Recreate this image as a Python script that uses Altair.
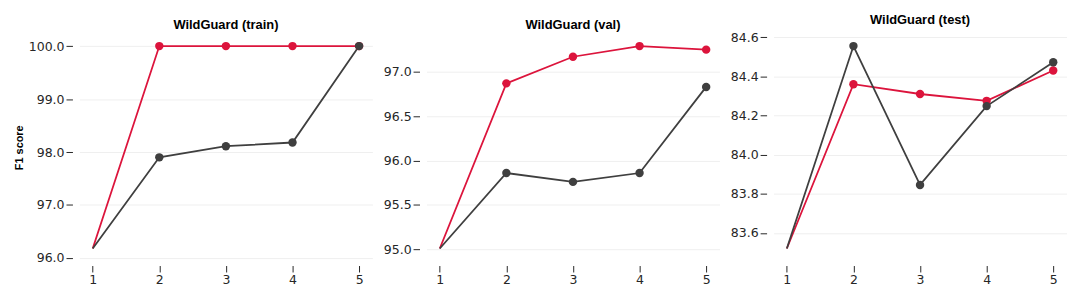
import altair as alt
import pandas as pd

orders = [1, 2, 3, 4, 5]
x_ticks = [1, 2, 3, 4, 5]
panel_titles = ["WildGuard (train)", "WildGuard (val)", "WildGuard (test)"]
series_names = ["TPC (progressive)", "TPC"]

linear_probe = [96.18, 95.01, 83.52]
train_progressive = [100.0, 100.0, 100.0, 100.0]
train_tpc = [97.90, 98.11, 98.18, 100.0]
val_progressive = [96.87, 97.17, 97.29, 97.25]
val_tpc = [95.86, 95.76, 95.86, 96.83]
test_progressive = [84.36, 84.31, 84.275, 84.43]
test_tpc = [84.555, 83.845, 84.248, 84.472]

y_ticks_train = [96.0, 97.0, 98.0, 99.0, 100.0]
y_ticks_val = [95.0, 95.5, 96.0, 96.5, 97.0]
y_ticks_test = [83.6, 83.8, 84.0, 84.2, 84.4, 84.6]
y_title = "F1 score"

W, H = 295.5, 224.5
OFF = 7
TICK = 6.5
FS = 12.6
RED = "#DC143C"
GRAY = "#3f3f3f"
INK = "#262626"
FONT = "DejaVu Sans"


def make_panel(idx, prog, tpc, lp, yticks):
    rows = []
    for name, vals in zip(series_names, [prog, tpc]):
        for n, v in zip(orders, [lp] + vals):
            rows.append({"n": n, "f1": v, "series": name})
    df = pd.DataFrame(rows)
    allv = prog + tpc + [lp]
    lo, hi = min(allv), max(allv)
    pad = 0.05 * (hi - lo)
    xs = alt.Scale(domain=[0.8, 5.2], nice=False, zero=False)
    ys = alt.Scale(domain=[lo - pad, hi + pad], nice=False, zero=False)
    yaxis = alt.Axis(values=yticks, format=".1f", offset=OFF, domain=False,
                     tickSize=TICK, tickColor=INK, labelFontSize=FS, labelFont=FONT,
                     labelColor=INK, gridColor="#efefef",
                     title=y_title if idx == 0 else None)
    xaxis = alt.Axis(values=x_ticks, format="d", offset=OFF, domain=False,
                     tickSize=TICK, tickColor=INK, labelFontSize=FS, labelFont=FONT,
                     labelColor=INK, grid=False, title=None)
    base = alt.Chart(df).encode(
        x=alt.X("n:Q", scale=xs, axis=xaxis),
        y=alt.Y("f1:Q", scale=ys, axis=yaxis),
    )
    red_line = base.transform_filter(alt.datum.series == series_names[0]).mark_line(color=RED, strokeWidth=1.8)
    gray_line = base.transform_filter(alt.datum.series == series_names[1]).mark_line(color=GRAY, strokeWidth=1.8)
    red_pts = base.transform_filter(alt.datum.series == series_names[0]).transform_filter(
        alt.datum.n >= 2).mark_circle(color=RED, size=72, opacity=1)
    gray_pts = base.transform_filter(alt.datum.series == series_names[1]).transform_filter(
        alt.datum.n >= 2).mark_circle(color=GRAY, size=72, opacity=1)
    return alt.layer(red_line, gray_line, red_pts, gray_pts).properties(
        width=W, height=H, title=panel_titles[idx])


p0 = make_panel(0, train_progressive, train_tpc, linear_probe[0], y_ticks_train)
p1 = make_panel(1, val_progressive, val_tpc, linear_probe[1], y_ticks_val)
p2 = make_panel(2, test_progressive, test_tpc, linear_probe[2], y_ticks_test)

chart = alt.hconcat(p0, p1, p2, spacing=10).configure_view(strokeWidth=0)

chart.save("out.html", embed_options={"renderer": "svg", "actions": False})
